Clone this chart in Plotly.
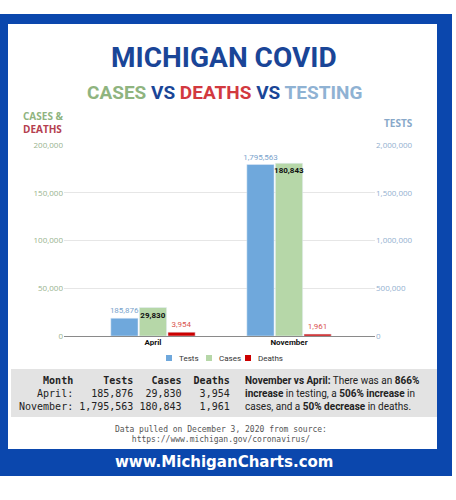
import plotly.graph_objects as go

# data
months = ['April', 'November']
tests = [185876, 1795563]
cases = [29830, 180843]
deaths = [3954, 1961]

left_ticks = [0, 50000, 100000, 150000, 200000]
right_ticks = [0, 500000, 1000000, 1500000, 2000000]

W, H = 456, 500
L, R, T, B = 64, 81, 145, 164
PW, PH = W - L - R, H - T - B

BLUE = '#0b47ad'
C_TESTS = '#6fa8dc'
C_CASES = '#b6d7a8'
C_DEATHS = '#cc0000'


def px(x):
    # pixel -> paper x
    return (x - L) / PW


def py(y):
    # pixel -> paper y
    return (H - B - y) / PH


def fmt(v):
    return f'{v:,}'


fig = go.Figure()

fig.add_trace(go.Bar(x=months, y=tests, name='Tests', yaxis='y2',
                     marker_color=C_TESTS, width=0.2, offset=-0.31,
                     text=[fmt(v) for v in tests], textposition='outside', textangle=0,
                     outsidetextfont=dict(color='#7aa3cc', size=8, family='Roboto'),
                     cliponaxis=False, constraintext='none'))
fig.add_trace(go.Bar(x=months, y=cases, name='Cases',
                     marker_color=C_CASES, width=0.2, offset=-0.1,
                     text=['<b>' + fmt(v) + '</b>' for v in cases], textposition='inside',
                     insidetextanchor='end', textangle=0,
                     insidetextfont=dict(color='#111111', size=8, family='Roboto'),
                     cliponaxis=False, constraintext='none'))
fig.add_trace(go.Bar(x=months, y=deaths, name='Deaths',
                     marker_color=C_DEATHS, width=0.2, offset=0.11,
                     text=[fmt(v) for v in deaths], textposition='outside', textangle=0,
                     outsidetextfont=dict(color='#d9534f', size=8, family='Roboto'),
                     cliponaxis=False, constraintext='none'))

fig.update_layout(
    width=W, height=H,
    margin=dict(l=L, r=R, t=T, b=B),
    paper_bgcolor='white', plot_bgcolor='white',
    showlegend=False,
    xaxis=dict(range=[-0.654, 1.632], showgrid=False, ticks='', showline=False,
               tickfont=dict(size=8, family='Roboto', color='#111111'),
               tickvals=[0, 1], ticktext=['<b>April</b>', '<b>November</b>']),
    yaxis=dict(range=[0, 200000], tickvals=left_ticks, tickformat=',',
               gridcolor='#e6e6e6', gridwidth=1, zeroline=True,
               zerolinecolor='#8a8a8a', zerolinewidth=1, ticks='',
               tickfont=dict(size=8, family='Open Sans', color='#98b38e')),
    yaxis2=dict(range=[0, 2000000], tickvals=right_ticks, tickformat=',',
                overlaying='y', side='right', showgrid=False, zeroline=False,
                tickfont=dict(size=8, family='Open Sans', color='#93b0cf')),
    font=dict(family='Roboto'),
)

# frame
fig.add_shape(type='rect', xref='paper', yref='paper', layer='below',
              x0=px(0), x1=px(452), y0=py(14), y1=py(476),
              fillcolor=BLUE, line_width=0)
fig.add_shape(type='rect', xref='paper', yref='paper', layer='below',
              x0=px(8), x1=px(437), y0=py(24), y1=py(449),
              fillcolor='white', line_width=0)
# table background
fig.add_shape(type='rect', xref='paper', yref='paper', layer='below',
              x0=px(11), x1=px(437), y0=py(369), y1=py(417),
              fillcolor='#e3e3e3', line_width=0)

# legend drawn by hand (plotly's legend spacing is too wide)
legend_items = [('Tests', C_TESTS, 169), ('Cases', C_CASES, 209), ('Deaths', C_DEATHS, 248)]
for name, col, x in legend_items:
    fig.add_shape(type='rect', xref='paper', yref='paper',
                  x0=px(x - 3), x1=px(x + 3), y0=py(355), y1=py(361),
                  fillcolor=col, line_width=0)
    fig.add_annotation(xref='paper', yref='paper', x=px(x + 8), y=py(358), showarrow=False,
                       xanchor='left', yanchor='middle', text=name,
                       font=dict(family='Roboto', size=8, color='#333333'))

title_font = 'Roboto, DejaVu Sans, sans-serif'
fig.add_annotation(xref='paper', yref='paper', x=px(224), y=py(58), showarrow=False,
                   text='<b>MICHIGAN COVID</b>', xanchor='center', yanchor='middle',
                   font=dict(family=title_font, size=28, color='#1a4597'))
fig.add_annotation(xref='paper', yref='paper', x=px(224), y=py(92), showarrow=False,
                   xanchor='center', yanchor='middle',
                   text="<b><span style='color:#8fb47f'>CASES</span> VS "
                        "<span style='color:#d2393f'>DEATHS</span> VS "
                        "<span style='color:#8fb2d3'>TESTING</span></b>",
                   font=dict(family=title_font, size=19, color='#1a4597'))

fig.add_annotation(xref='paper', yref='paper', x=px(21), y=py(122), showarrow=False,
                   xanchor='left', yanchor='middle', align='left',
                   text="<b><span style='color:#8fb47f'>CASES &</span><br>"
                        "<span style='color:#b5404f'>DEATHS</span></b>",
                   font=dict(family='Open Sans', size=10))
fig.add_annotation(xref='paper', yref='paper', x=px(415), y=py(123), showarrow=False,
                   xanchor='right', yanchor='middle', text='<b>TESTS</b>',
                   font=dict(family='Open Sans', size=10, color='#88a8c9'))

# data table
sp = '\u00a0'
rows = [('Month', 'Tests', 'Cases', 'Deaths')]
for m, t, c, d in zip(months, tests, cases, deaths):
    rows.append((m + ':', fmt(t), fmt(c), fmt(d)))
lines = []
for i, (m, t, c, d) in enumerate(rows):
    s = f'{m:>9} {t:>9} {c:>7} {d:>7}'.replace(' ', sp)
    lines.append('<b>' + s + '</b>' if i == 0 else s)
fig.add_annotation(xref='paper', yref='paper', x=px(17), y=py(393), showarrow=False,
                   xanchor='left', yanchor='middle', align='left',
                   text='<br>'.join(lines),
                   font=dict(family='DejaVu Sans Mono', size=10, color='#222222'))

fig.add_annotation(xref='paper', yref='paper', x=px(243), y=py(393), showarrow=False,
                   xanchor='left', yanchor='middle', align='left',
                   text='<b>November vs April:</b> There was an <b>866%</b><br>'
                        '<b>increase</b> in testing, a <b>506% increase</b> in<br>'
                        'cases, and a <b>50% decrease</b> in deaths.',
                   font=dict(family='Roboto', size=10, color='#222222'))

fig.add_annotation(xref='paper', yref='paper', x=px(221), y=py(434), showarrow=False,
                   xanchor='center', yanchor='middle', align='center',
                   text='Data pulled on December 3, 2020 from source:<br>'
                        'https://www.michigan.gov/coronavirus/',
                   font=dict(family='DejaVu Sans Mono', size=8, color='#555555'))

fig.add_annotation(xref='paper', yref='paper', x=px(224), y=py(462), showarrow=False,
                   xanchor='center', yanchor='middle',
                   text='<b>www.MichiganCharts.com</b>',
                   font=dict(family='DejaVu Sans', size=15, color='white'))

fig.write_html('out.html', config={'displayModeBar': False},
               post_script="document.body.style.margin='0';")
